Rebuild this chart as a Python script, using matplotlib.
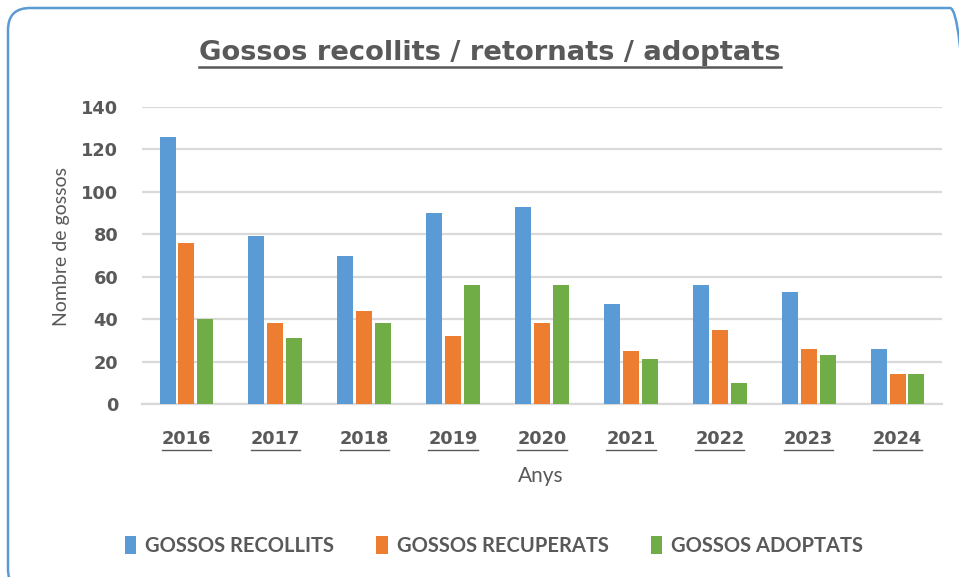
import matplotlib
matplotlib.use("Agg")
import matplotlib.pyplot as plt
import numpy as np
from matplotlib.patches import FancyBboxPatch, Patch
from matplotlib.lines import Line2D
from matplotlib.transforms import IdentityTransform

years = ["2016", "2017", "2018", "2019", "2020", "2021", "2022", "2023", "2024"]
recollits = [126, 79, 70, 90, 93, 47, 56, 53, 26]
recuperats = [76, 38, 44, 32, 38, 25, 35, 26, 14]
adoptats = [40, 31, 38, 56, 56, 21, 10, 23, 14]
series_names = ["GOSSOS RECOLLITS", "GOSSOS RECUPERATS", "GOSSOS ADOPTATS"]
colors = ["#5B9BD5", "#ED7D31", "#70AD47"]
title = "Gossos recollits / retornats / adoptats"
yticks = [0, 20, 40, 60, 80, 100, 120, 140]

W, H = 959, 577
fig = plt.figure(figsize=(W / 100, H / 100), dpi=100)
fig.patch.set_facecolor("white")

gray = "#595959"
grid = "#D9D9D9"
txtfont = "Lato"

# rounded border
border = FancyBboxPatch((8, -14), 964, 583, boxstyle="round,pad=0,rounding_size=22",
                        transform=IdentityTransform(), fill=False,
                        edgecolor="#5B9BD5", linewidth=1.8, zorder=0)
fig.patches.append(border)

ax = fig.add_axes([142 / W, (H - 404) / H, 800 / W, 297 / H])
x = np.arange(len(years))
w = 0.18
off = 0.212
for i, (vals, c) in enumerate(zip([recollits, recuperats, adoptats], colors)):
    ax.bar(x + (i - 1) * off, vals, width=w, color=c, zorder=3, label=series_names[i])

ax.set_xlim(-0.5, len(years) - 0.5)
ax.set_ylim(0, 140)
ax.set_yticks(yticks)
ax.set_yticklabels([str(v) for v in yticks], fontfamily="DejaVu Sans", fontweight="bold",
                   fontsize=12.8, color=gray)
ax.set_xticks(x)
ax.set_xticklabels(years, fontfamily="DejaVu Sans", fontweight="bold", fontsize=12.8, color=gray)
ax.tick_params(axis="both", length=0)
ax.tick_params(axis="y", pad=17)
ax.tick_params(axis="x", pad=19)
for s in ["top", "right", "left"]:
    ax.spines[s].set_visible(False)
ax.spines["bottom"].set_color(grid)
ax.spines["bottom"].set_linewidth(1.6)
ax.yaxis.grid(True, color=grid, linewidth=1.6, zorder=0)
ax.set_axisbelow(True)

fig.text(61 / W, 1 - 246 / H, "Nombre de gossos", rotation=90, ha="center", va="center",
         fontfamily=txtfont, fontsize=14, color=gray)
fig.text(541 / W, 1 - 476 / H, "Anys", ha="center", va="center",
         fontfamily=txtfont, fontsize=15, color=gray)

t = fig.text(490 / W, 1 - 53 / H, title, ha="center", va="center",
             fontfamily="DejaVu Sans", fontweight="bold", fontsize=19.7, color=gray)

handles = [Patch(facecolor=c) for c in colors]
leg = fig.legend(handles, series_names, loc="center", bbox_to_anchor=(494 / W, 1 - 546 / H),
                 ncol=3, frameon=False, handlelength=0.55, handleheight=1.0, handletextpad=0.45,
                 columnspacing=2.1, prop={"family": txtfont, "weight": "bold", "size": 14.5})
for txt in leg.get_texts():
    txt.set_color(gray)

# underlines
fig.canvas.draw()
r = fig.canvas.get_renderer()
def underline(textobj, dy, lw):
    bb = textobj.get_window_extent(r)
    yy = bb.y0 - dy
    fig.add_artist(Line2D([bb.x0, bb.x1], [yy, yy], transform=IdentityTransform(),
                          color=gray, linewidth=lw))

underline(t, 1, 1.8)
for lab in ax.get_xticklabels():
    underline(lab, 2, 1.0)

fig.savefig("out.png", dpi=100, facecolor="white")
